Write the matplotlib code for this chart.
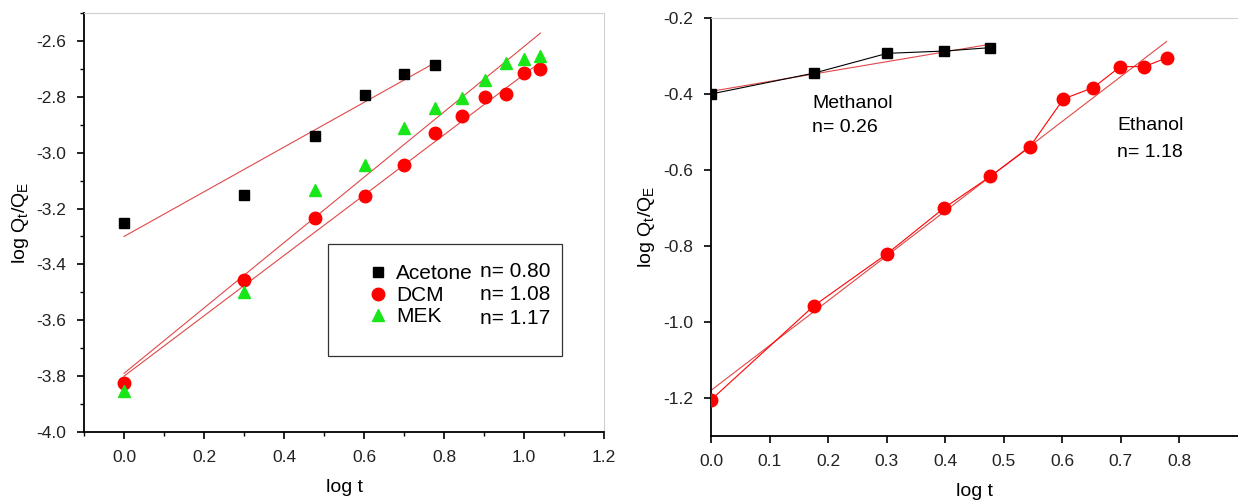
import numpy as np
import matplotlib
matplotlib.use("Agg")
import matplotlib.pyplot as plt
from matplotlib.patches import Rectangle
from matplotlib.ticker import MultipleLocator

plt.rcParams['font.family'] = ['Liberation Sans', 'DejaVu Sans']
plt.rcParams['axes.unicode_minus'] = False

# Left panel: ketone / chlorinated solvents
log_t_ace = [0.0, 0.301, 0.477, 0.602, 0.699, 0.778]
acetone = [-3.25, -3.15, -2.94, -2.795, -2.72, -2.685]
log_t_long = [0.0, 0.301, 0.477, 0.602, 0.699, 0.778, 0.845, 0.903, 0.954, 1.0, 1.041]
dcm = [-3.825, -3.455, -3.235, -3.155, -3.045, -2.93, -2.87, -2.80, -2.79, -2.715, -2.70]
mek = [-3.855, -3.50, -3.135, -3.045, -2.91, -2.84, -2.805, -2.74, -2.68, -2.665, -2.655]

# Right panel: alcohols
log_t_meoh = [0.0, 0.176, 0.301, 0.398, 0.477]
methanol = [-0.40, -0.345, -0.293, -0.287, -0.278]
log_t_etoh = [0.0, 0.176, 0.301, 0.398, 0.477, 0.544, 0.602, 0.653, 0.699, 0.740, 0.778]
ethanol = [-1.205, -0.957, -0.82, -0.70, -0.617, -0.54, -0.413, -0.383, -0.328, -0.328, -0.305]

# fitted slopes (n) and intercepts
fits_left = {'Acetone': (0.80, -3.30), 'DCM': (1.08, -3.80), 'MEK': (1.17, -3.79)}
fits_right = {'Methanol': (0.26, -0.393), 'Ethanol': (1.18, -1.18)}

fit_color = '#e04848'
green = '#19e619'

fig = plt.figure(figsize=(12.38, 5.0), dpi=100)
ax1 = fig.add_axes([0.0679, 0.136, 0.420, 0.838])
ax2 = fig.add_axes([0.5743, 0.128, 0.4257, 0.836])


def fit_line(ax, x, slope, icpt):
    xx = np.array([x[0], x[-1]])
    ax.plot(xx, slope * xx + icpt, color=fit_color, lw=0.8, zorder=2)


# ---- left
h1, = ax1.plot(log_t_ace, acetone, 's', color='black', ms=7, ls='none', zorder=3)
h2, = ax1.plot(log_t_long, dcm, 'o', color='red', ms=9, ls='none', zorder=3)
h3, = ax1.plot(log_t_long, mek, '^', color=green, ms=9, ls='none', zorder=3)
fit_line(ax1, log_t_ace, *fits_left['Acetone'])
fit_line(ax1, log_t_long, *fits_left['DCM'])
fit_line(ax1, log_t_long, *fits_left['MEK'])

ax1.set_xlim(-0.1, 1.2)
ax1.set_ylim(-4.0, -2.5)
ax1.xaxis.set_major_locator(MultipleLocator(0.2))
ax1.xaxis.set_minor_locator(MultipleLocator(0.1))
ax1.yaxis.set_major_locator(MultipleLocator(0.2))
ax1.yaxis.set_minor_locator(MultipleLocator(0.1))
ax1.set_xlabel('log t', fontsize=14, labelpad=10)
ax1.set_ylabel(r'log Q$_\mathregular{t}$/Q$_\mathregular{E}$', fontsize=14)

# legend box
ax1.add_patch(Rectangle((0.469, 0.181), 0.450, 0.268, transform=ax1.transAxes,
                        fill=False, edgecolor='#333333', lw=0.9, zorder=4))
ax1.legend([h1, h2, h3], ['Acetone', 'DCM', 'MEK'], loc='upper left',
           bbox_to_anchor=(0.50, 0.445), frameon=False, fontsize=15,
           handletextpad=0.1, labelspacing=0.12, handlelength=1.5)
for y, name in zip([0.383, 0.328, 0.270], ['Acetone', 'DCM', 'MEK']):
    ax1.text(0.897, y, 'n= %.2f' % fits_left[name][0], transform=ax1.transAxes,
             ha='right', va='center', fontsize=15)

# ---- right
ax2.plot(log_t_meoh, methanol, 's-', color='black', ms=7, lw=0.8, zorder=3)
ax2.plot(log_t_etoh, ethanol, 'o-', color='red', ms=9, lw=0.8, zorder=3)
fit_line(ax2, log_t_meoh, *fits_right['Methanol'])
fit_line(ax2, log_t_etoh, *fits_right['Ethanol'])

ax2.text(0.173, -0.425, 'Methanol', fontsize=14, va='center')
ax2.text(0.173, -0.489, 'n= %.2f' % fits_right['Methanol'][0], fontsize=14, va='center')
ax2.text(0.694, -0.484, 'Ethanol', fontsize=14, va='center')
ax2.text(0.694, -0.553, 'n= %.2f' % fits_right['Ethanol'][0], fontsize=14, va='center')

ax2.set_xlim(0.0, 0.9)
ax2.set_ylim(-1.3, -0.2)
ax2.yaxis.set_major_locator(MultipleLocator(0.2))
ax2.set_xticks(np.arange(0, 0.81, 0.1))
ax2.set_xlabel('log t', fontsize=14, labelpad=10)
ax2.set_ylabel(r'log Q$_\mathregular{t}$/Q$_\mathregular{E}$', fontsize=14)

for ax in (ax1, ax2):
    ax.tick_params(which='major', direction='out', length=5, width=1.2, labelsize=12.5, pad=8)
    ax.tick_params(which='minor', direction='out', length=3, width=1.0)
    ax.spines['left'].set_linewidth(1.3)
    ax.spines['bottom'].set_linewidth(1.3)
    ax.spines['top'].set_color('#d0d0d0')
    ax.spines['right'].set_color('#d0d0d0')
    for lbl in ax.get_xticklabels() + ax.get_yticklabels():
        lbl.set_color('#222222')
ax2.spines['right'].set_visible(False)

fig.savefig('out.png', dpi=100)
